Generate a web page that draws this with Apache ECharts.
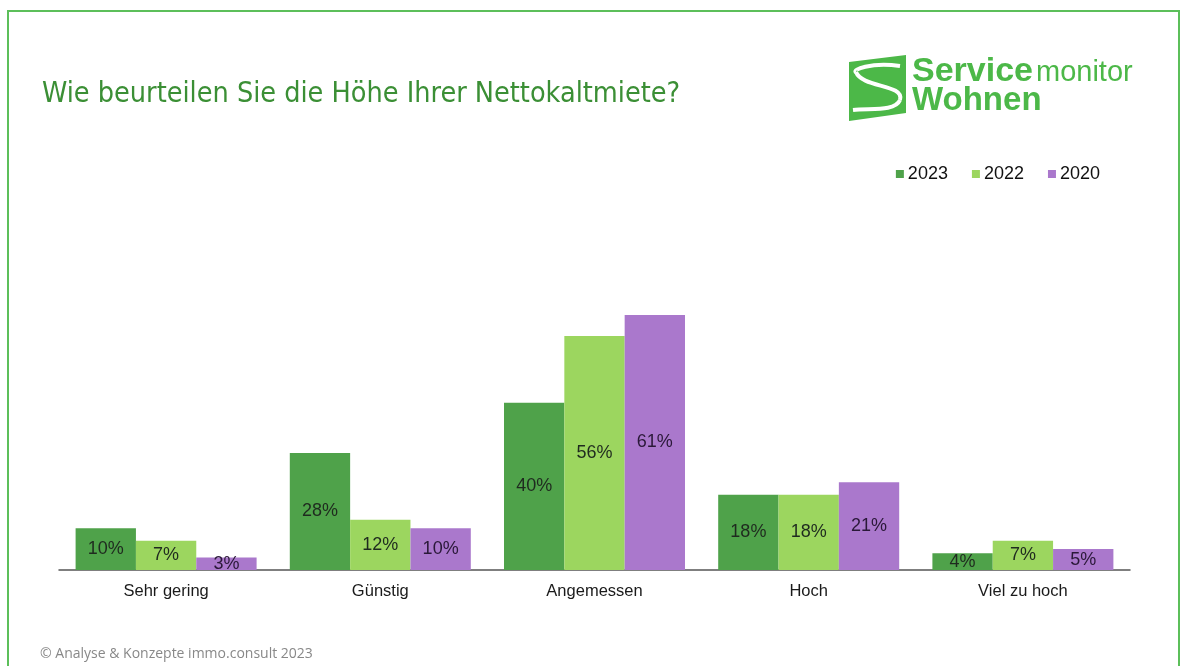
<!DOCTYPE html>
<html><head><meta charset="utf-8">
<script src="https://cdn.jsdelivr.net/npm/echarts@6/dist/echarts.min.js"></script>
<style>html,body{margin:0;padding:0;background:#fff}#c{width:1181px;height:666px}</style>
</head><body><div id="c"></div>
<script>
const categories = ['Sehr gering', 'Günstig', 'Angemessen', 'Hoch', 'Viel zu hoch'];
const seriesNames = ['2023', '2022', '2020'];
const values2023 = [10, 28, 40, 18, 4];
const values2022 = [7, 12, 56, 18, 7];
const values2020 = [3, 10, 61, 21, 5];
const colors = ['#4fa24a', '#9cd65f', '#aa78cc'];
const labelColors = ['#1f2a1f', '#1f2a1f', '#2a1838'];
const allValues = [values2023, values2022, values2020];

const chart = echarts.init(document.getElementById('c'));
chart.setOption({
  backgroundColor: '#fff',
  animation: false,
  title: {
    text: 'Wie beurteilen Sie die Höhe Ihrer Nettokaltmiete?',
    left: 37, top: 75,
    textStyle: { color: '#3b8f35', fontSize: 28.5, fontWeight: 'normal', fontFamily: 'DejaVu Sans Condensed, DejaVu Sans' }
  },
  legend: {
    data: seriesNames, right: 76, top: 160, itemWidth: 8, itemHeight: 8, itemGap: 24,
    icon: 'rect',
    textStyle: { fontSize: 18, color: '#111', fontFamily: 'Liberation Sans, Arial', padding: [0, 0, 0, -1] }
  },
  grid: { left: 59, right: 51, top: 277.4, bottom: 96, containLabel: false },
  xAxis: {
    type: 'category', data: categories,
    axisLine: { lineStyle: { color: '#555', width: 1.5 } },
    axisTick: { show: false },
    axisLabel: { color: '#1a1a1a', fontSize: 16.5, margin: 13, fontFamily: 'Liberation Sans, Arial' }
  },
  yAxis: { type: 'value', min: 0, max: 70, show: false, splitLine: { show: false } },
  series: seriesNames.map((n, i) => ({
    name: n, type: 'bar', data: allValues[i], barGap: '0%', barCategoryGap: '15.5%',
    itemStyle: { color: colors[i] },
    label: { show: true, position: 'inside', formatter: '{c}%', color: labelColors[i], fontSize: 18, fontFamily: 'Liberation Sans, Arial' }
  })),
  graphic: [
    { type: 'rect', shape: { x: 8, y: 11, width: 1171, height: 700 }, style: { fill: 'none', stroke: '#5cbf5a', lineWidth: 2 } },
    { type: 'polygon', shape: { points: [[849, 62], [906, 55], [906, 113], [849, 121]] }, style: { fill: '#4cb848' } },
    { type: 'bezierCurve', shape: { x1: 900, y1: 66, x2: 856, y2: 72, cpx1: 870, cpy1: 62, cpx2: 852, cpy2: 70 }, style: { stroke: '#fff', lineWidth: 4, fill: 'none' } },
    { type: 'bezierCurve', shape: { x1: 856, y1: 72, x2: 900, y2: 100, cpx1: 862, cpy1: 88, cpx2: 905, cpy2: 84 }, style: { stroke: '#fff', lineWidth: 4, fill: 'none' } },
    { type: 'bezierCurve', shape: { x1: 900, y1: 100, x2: 853, y2: 110, cpx1: 895, cpy1: 112, cpx2: 870, cpy2: 108 }, style: { stroke: '#fff', lineWidth: 4, fill: 'none' } },
    { type: 'text', left: 912, top: 55, style: { text: 'Service', fill: '#4cb848', font: 'bold 34px Liberation Sans, Arial' } },
    { type: 'text', left: 1036, top: 58, style: { text: 'monitor', fill: '#4cb848', font: 'normal 29px Liberation Sans, Arial' } },
    { type: 'text', left: 912, top: 84, style: { text: 'Wohnen', fill: '#4cb848', font: 'bold 33px Liberation Sans, Arial' } },
    { type: 'text', left: 40, top: 647, style: { text: '© Analyse & Konzepte immo.consult 2023', fill: '#888', font: 'normal 14px Open Sans, sans-serif' } }
  ]
});
</script></body></html>
